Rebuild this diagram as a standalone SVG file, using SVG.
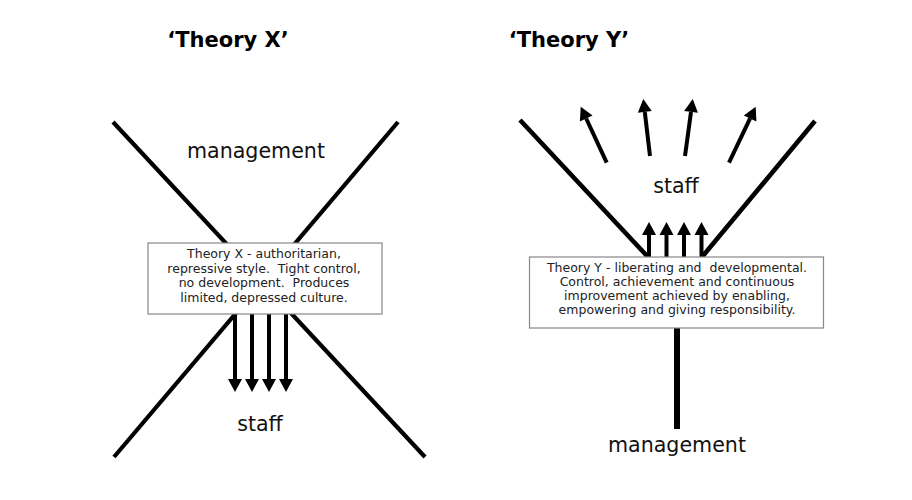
<svg xmlns="http://www.w3.org/2000/svg" width="912" height="500" viewBox="0 0 912 500">
<style>
.title{font-family:"DejaVu Sans","Liberation Sans",sans-serif;font-weight:bold;font-size:21px;fill:#000;text-anchor:middle}
.lbl{font-family:"DejaVu Sans","Liberation Sans",sans-serif;font-size:20.6px;fill:#111;text-anchor:middle}
.box{fill:#fff;stroke:#888;stroke-width:1.2}
.bt{font-family:"DejaVu Sans","Liberation Sans",sans-serif;font-size:12.5px;fill:#222;text-anchor:middle;white-space:pre}
.thick{stroke:#000;stroke-width:4.2;fill:none}
.arr{stroke:#000;stroke-width:4;fill:none;marker-end:url(#ah)}
</style>
<defs>
<marker id="ah" markerUnits="userSpaceOnUse" markerWidth="16" markerHeight="16" viewBox="0 -8 14 16" refX="0" refY="0" orient="auto">
<path d="M0,-7 L13,0 L0,7 Z" fill="#000"/>
</marker>
</defs>
<rect width="912" height="500" fill="#fff"/>
<text class="title" x="228" y="47">‘Theory X’</text>
<text class="title" x="569" y="47">‘Theory Y’</text>

<g id="connectors">
<line class="thick" x1="113" y1="122" x2="425" y2="457"/>
<line class="thick" x1="398" y1="122" x2="114" y2="457"/>
<line class="arr" x1="235" y1="314" x2="235" y2="379"/>
<line class="arr" x1="252" y1="314" x2="252" y2="379"/>
<line class="arr" x1="269" y1="314" x2="269" y2="379"/>
<line class="arr" x1="286" y1="314" x2="286" y2="379"/>
<line class="thick" style="stroke-width:4.6" x1="520" y1="120" x2="648" y2="257"/>
<line class="thick" style="stroke-width:4.6" x1="815" y1="121" x2="702" y2="257"/>
<line class="thick" style="stroke-width:6" x1="677" y1="328" x2="677" y2="429"/>
<line class="arr" x1="649" y1="257" x2="649" y2="235"/>
<line class="arr" x1="666.5" y1="257" x2="666.5" y2="235"/>
<line class="arr" x1="684" y1="257" x2="684" y2="235"/>
<line class="arr" x1="701.5" y1="257" x2="701.5" y2="235"/>
<line class="arr" x1="606.7" y1="162.7" x2="586.2" y2="118.5"/>
<line class="arr" x1="650" y1="156" x2="644.8" y2="111.9"/>
<line class="arr" x1="685" y1="156" x2="691" y2="111.9"/>
<line class="arr" x1="729" y1="162.7" x2="750.1" y2="118.4"/>
</g>

<g id="x-management"><text class="lbl" x="256" y="158">management</text></g>
<g id="x-staff"><text class="lbl" x="260" y="431">staff</text></g>
<g id="x-box">
<rect class="box" x="148" y="243" width="234" height="71"/>
<text class="bt" x="264" y="258">Theory X - authoritarian,</text>
<text class="bt" x="264" y="272.7">repressive style.  Tight control,</text>
<text class="bt" x="264" y="287.4">no development.  Produces</text>
<text class="bt" x="264" y="302">limited, depressed culture.</text>
</g>

<g id="y-staff"><text class="lbl" x="676" y="193">staff</text></g>
<g id="y-management"><text class="lbl" x="677" y="452">management</text></g>
<g id="y-box">
<rect class="box" x="529.5" y="257" width="294" height="71"/>
<text class="bt" x="677" y="272">Theory Y - liberating and  developmental.</text>
<text class="bt" x="677" y="286">Control, achievement and continuous</text>
<text class="bt" x="677" y="300">improvement achieved by enabling,</text>
<text class="bt" x="677" y="314">empowering and giving responsibility.</text>
</g>
</svg>
